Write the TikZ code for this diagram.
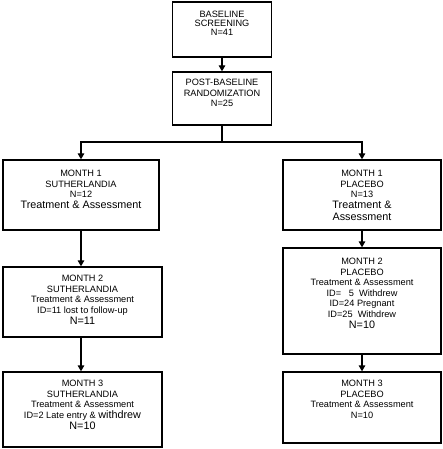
\documentclass[tikz,border=0pt]{standalone}
\usepackage{fontspec}
\setmainfont{Liberation Sans}
\usetikzlibrary{arrows.meta}
\newcommand{\smf}{\fontsize{9.2}{10.5}\selectfont}
\newcommand{\lgf}{\fontsize{10.8}{12.5}\selectfont}
\begin{document}
\begin{tikzpicture}[x=1pt,y=-1pt,
  boxst/.style={draw,line width=1.3pt,inner sep=0pt,rectangle},
  txt/.style={anchor=north,align=center,inner sep=0pt,font=\smf},
  arr/.style={line width=1.3pt,-{Triangle[length=6pt,width=6.5pt]}},
  ln/.style={line width=1.3pt}]
\useasboundingbox (0,0) rectangle (442,449);
% boxes: centre, width, height
\node[boxst,minimum width=99pt,minimum height=55pt] (b1) at (222,29.5) {};
\node[boxst,minimum width=99pt,minimum height=53pt] (b2) at (222,98.5) {};
\node[boxst,minimum width=156pt,minimum height=70pt] (l1) at (81,195) {};
\node[boxst,minimum width=158pt,minimum height=70pt] (r1) at (362,195) {};
\node[boxst,minimum width=159pt,minimum height=70pt] (l2) at (82.5,302) {};
\node[boxst,minimum width=158pt,minimum height=106pt] (r2) at (362,301) {};
\node[boxst,minimum width=159pt,minimum height=75pt] (l3) at (82.5,409.5) {};
\node[boxst,minimum width=158pt,minimum height=71pt] (r3) at (362,407.5) {};
% texts
\node[txt] (t1) at ([yshift=-10pt]b1.north) {BASELINE\\[-1.5pt]SCREENING\\[-1.5pt]N=41};
\node[txt] (t2) at ([yshift=-8pt]b2.north) {POST-BASELINE\\RANDOMIZATION\\N=25};
\node[txt] (tl1) at ([yshift=-11pt]l1.north) {MONTH 1\\SUTHERLANDIA\\N=12\\[0.5pt]{\lgf Treatment \& Assessment}};
\node[txt] (tr1) at ([yshift=-11pt]r1.north) {MONTH 1\\PLACEBO\\N=13\\[0.5pt]{\lgf Treatment \&}\\[1pt]{\lgf Assessment}};
\node[txt] (tl2) at ([yshift=-9pt]l2.north) {MONTH 2\\SUTHERLANDIA\\Treatment \& Assessment\\ID=11 lost to follow-up\\[1pt]{\lgf N=11}};
\node[txt] (tr2) at ([yshift=-11pt]r2.north) {MONTH 2\\PLACEBO\\Treatment \& Assessment\\ID=\ \ \ 5\ \ Withdrew\\ID=24 Pregnant\\ID=25\ \ Withdrew\\[1pt]{\lgf N=10}};
\node[txt] (tl3) at ([yshift=-9pt]l3.north) {MONTH 3\\SUTHERLANDIA\\Treatment \& Assessment\\ID=2 Late entry \& {\lgf withdrew}\\[1pt]{\lgf N=10}};
\node[txt] (tr3) at ([yshift=-9pt]r3.north) {MONTH 3\\PLACEBO\\Treatment \& Assessment\\N=10};
% connectors
\coordinate (split) at (b2.south |- 0,142);
\draw[arr] (b1) -- (b2);
\draw[ln] (b2) -- (split);
\draw[arr] (split) -| (l1.north);
\draw[arr] (split) -| (r1.north);
\draw[arr] (l1.south -| 81,0) -- (l2.north -| 81,0);
\draw[arr] (l2.south -| 81,0) -- (l3.north -| 81,0);
\draw[arr] (r1) -- (r2);
\draw[arr] (r2) -- (r3);
\end{tikzpicture}
\end{document}
